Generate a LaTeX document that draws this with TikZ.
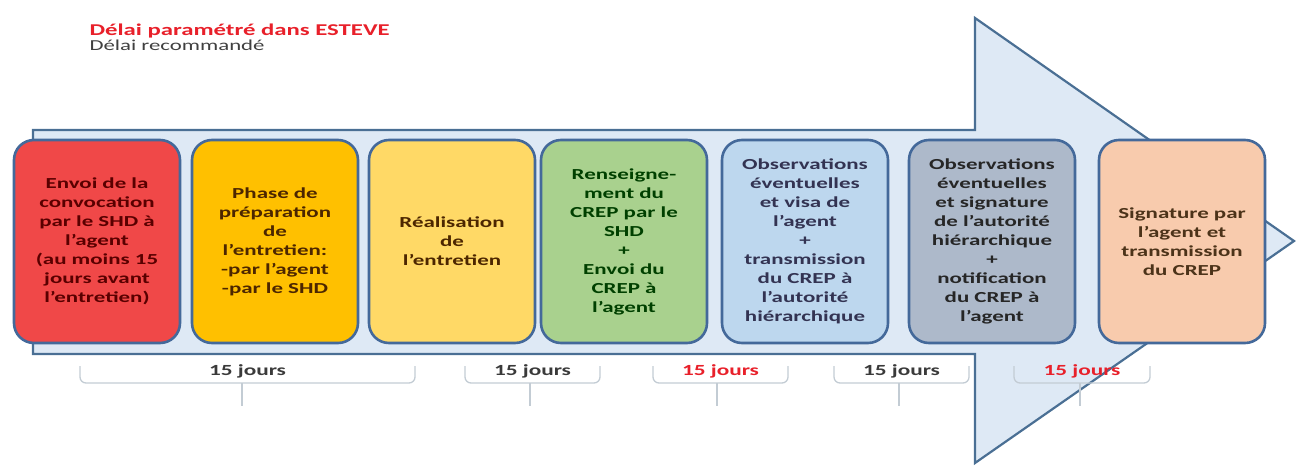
\documentclass[tikz,border=0pt]{standalone}
\usepackage{fontspec}
\newfontfamily\crepfont[FakeStretch=1.5]{Carlito}
\usetikzlibrary{positioning}

\definecolor{arrowfill}{HTML}{DEE9F5}
\definecolor{arrowline}{HTML}{4A6F94}
\definecolor{boxline}{HTML}{44699A}
\definecolor{delaired}{HTML}{E8202A}
\definecolor{leggray}{HTML}{404040}
\definecolor{bracegray}{HTML}{C3CCD4}
\definecolor{durgray}{HTML}{3A3A3A}
\definecolor{redbox}{HTML}{F04848}
\definecolor{orangebox}{HTML}{FFC000}
\definecolor{yellowbox}{HTML}{FFD966}
\definecolor{greenbox}{HTML}{A9D18E}
\definecolor{bluebox}{HTML}{BDD7EE}
\definecolor{slatebox}{HTML}{ADB9CA}
\definecolor{peachbox}{HTML}{F8CBAD}

\begin{document}
\begin{tikzpicture}[x=1pt,y=-1pt,on grid,
    phase/.style={draw=boxline,line width=2.6pt,rounded corners=20pt,
      minimum width=166pt,minimum height=203pt,text width=154pt,inner xsep=0pt,
      align=center,font=\crepfont\bfseries\fontsize{15.3}{19}\selectfont},
    brace/.style={draw=bracegray,line width=1.3pt,rounded corners=6pt},
    duree/.style={font=\crepfont\bfseries\fontsize{15.5}{18}\selectfont,text=durgray,inner sep=0pt}]
  \useasboundingbox (0,0) rectangle (1297,466);

  % legend
  \node[anchor=west,text=delaired,font=\crepfont\bfseries\fontsize{16.5}{18}\selectfont] (leg_esteve) at (86,31) {Délai paramétré dans ESTEVE};
  \node[text=leggray,font=\crepfont\fontsize{15.2}{18}\selectfont] (leg_reco) [below=14pt of leg_esteve.west,anchor=west] {Délai recommandé};

  % big arrow
  \draw[fill=arrowfill,draw=arrowline,line width=2.2pt,line join=miter]
    (33,130) -- (975,130) -- (975,18) -- (1294,241) -- (975,463) -- (975,354) -- (33,354) -- cycle;

  % phases
  \node[phase,fill=redbox,text=red!35!black] (convoc) at (97,241.5)
    {Envoi de la\\convocation\\par le SHD à\\l’agent\\(au moins 15\\jours avant\\l’entretien)};
  \node[phase,fill=orangebox,text=orange!30!black] (prepa) [right=178pt of convoc]
    {Phase de\\préparation\\de\\l’entretien:\\-par l’agent\\-par le SHD};
  \node[phase,fill=yellowbox,text=orange!30!black] (entretien) [right=177pt of prepa]
    {Réalisation\\de\\l’entretien};
  \node[phase,fill=greenbox,text=green!25!black] (renseign) [right=172pt of entretien]
    {Renseigne-\\ment du\\CREP par le\\SHD\\+\\Envoi du\\CREP à\\l’agent};
  \node[phase,fill=bluebox,text=blue!15!black!80] (visa) [right=181pt of renseign]
    {Observations\\éventuelles\\et visa de\\l’agent\\+\\transmission\\du CREP à\\l’autorité\\hiérarchique};
  \node[phase,fill=slatebox,text=black!85] (notif) [right=187pt of visa]
    {Observations\\éventuelles\\et signature\\de l’autorité\\hiérarchique\\+\\notification\\du CREP à\\l’agent};
  \node[phase,fill=peachbox,text=brown!40!black] (signature) [right=190pt of notif]
    {Signature par\\l’agent et\\transmission\\du CREP};

  % delays
  \foreach \xa/\xb/\xm/\col [count=\i] in {80/415/242/durgray,465/600/530/durgray,653/788/717/delaired,834/969/899/durgray,1014/1150/1080/delaired}{
    \draw[brace] (\xa,366) -- (\xa,383) -- (\xb,383) -- (\xb,366);
    \draw[brace] (\xm,383) -- (\xm,406);
    \node[duree,text=\col] (delai_\i) at ({(\xa+\xb)/2},371) {15 jours};
  }
\end{tikzpicture}
\end{document}
